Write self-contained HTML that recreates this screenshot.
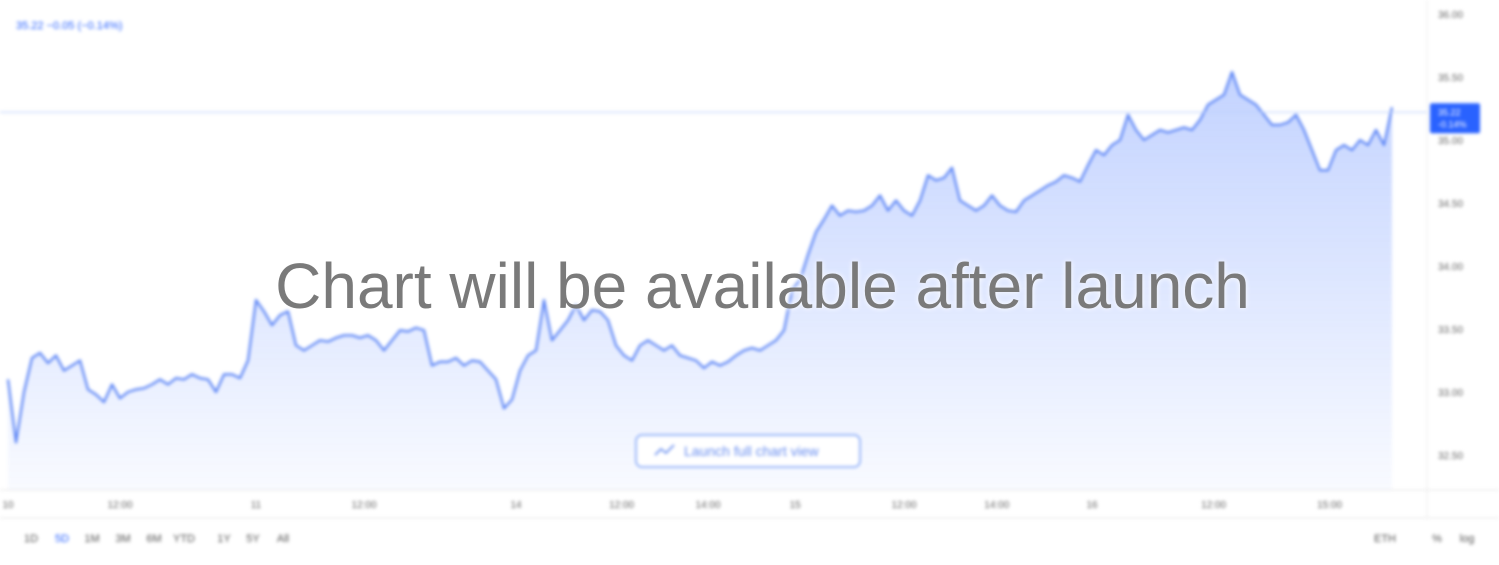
<!DOCTYPE html>
<html><head><meta charset="utf-8"><style>
body{margin:0;width:1499px;height:560px;background:#fff;overflow:hidden;font-family:"Liberation Sans",sans-serif;position:relative}
#blurwrap{position:absolute;left:0;top:0;width:1499px;height:560px;filter:blur(1.6px)}
.overlay{position:absolute;left:0;width:1525px;top:249px;text-align:center;font-size:64px;color:#7a7a7a;text-shadow:0 0 6px #fff;}
</style></head><body>
<div id="blurwrap">
<svg id="chart" width="1499" height="560">
<defs><linearGradient id="g" x1="0" y1="0" x2="0" y2="1"><stop offset="0" stop-color="#2962ff" stop-opacity="0.28"/><stop offset="1" stop-color="#2962ff" stop-opacity="0.03"/></linearGradient></defs>
<line x1="0" y1="490" x2="1499" y2="490" stroke="#e6e6e6"/>
<line x1="1427" y1="0" x2="1427" y2="518" stroke="#eee"/>
<line x1="0" y1="518" x2="1499" y2="518" stroke="#e6e6e6"/>
<text x="16" y="29" font-size="11" fill="#2962ff">35.22 −0.05 (−0.14%)</text>
<g id="yt"></g><g id="xt"></g><g id="series"></g>
<rect x="636" y="435" width="224" height="32" rx="6" fill="#fff" stroke="#7da2f7" stroke-width="1.5"/>
<text x="684" y="456" font-size="14" fill="#6a8ff0">Launch full chart view</text>
<path d="M655 455 l6 -6 l5 4 l8 -8" stroke="#6a8ff0" fill="none" stroke-width="1.6"/>
<g font-size="11" fill="#555" id="tb"></g>
</svg>
</div>
<div class="overlay">Chart will be available after launch</div>
<script>
const prices=[33.10,32.60,33.00,33.27,33.31,33.23,33.29,33.17,33.21,33.25,33.02,32.98,32.92,33.06,32.95,33.00,33.02,33.03,33.06,33.10,33.06,33.11,33.10,33.14,33.11,33.10,33.00,33.14,33.14,33.11,33.25,33.73,33.64,33.53,33.61,33.64,33.37,33.33,33.37,33.41,33.40,33.43,33.45,33.45,33.43,33.45,33.41,33.33,33.41,33.49,33.48,33.51,33.49,33.21,33.24,33.24,33.27,33.21,33.25,33.24,33.17,33.10,32.87,32.94,33.17,33.29,33.33,33.73,33.41,33.49,33.57,33.69,33.57,33.65,33.64,33.57,33.37,33.29,33.25,33.37,33.41,33.37,33.33,33.37,33.29,33.27,33.25,33.19,33.24,33.21,33.24,33.29,33.33,33.35,33.33,33.37,33.41,33.49,33.81,33.89,34.09,34.27,34.37,34.48,34.40,34.44,34.43,34.44,34.48,34.56,34.44,34.52,34.44,34.40,34.52,34.72,34.68,34.70,34.78,34.52,34.48,34.44,34.48,34.56,34.48,34.44,34.43,34.52,34.56,34.60,34.64,34.67,34.72,34.70,34.67,34.80,34.92,34.88,34.96,35.00,35.20,35.08,35.00,35.04,35.08,35.06,35.08,35.10,35.08,35.16,35.28,35.32,35.36,35.54,35.36,35.32,35.28,35.20,35.12,35.12,35.14,35.20,35.08,34.92,34.76,34.76,34.92,34.96,34.92,35.00,34.96,35.08,34.96,35.26];
const yTicks=[36.00,35.50,35.00,34.50,34.00,33.50,33.00,32.50];
const xLabels=["10","12:00","11","12:00","14","12:00","14:00","15","12:00","14:00","16","12:00","15:00"];
const xLabelIdx=[0,14,31,44.5,63.5,76.7,87.5,98.4,112,123.6,135.5,150.7,165.2];
const lastPrice=35.22;
const ranges=["1D","5D","1M","3M","6M","YTD","1Y","5Y","All"];
const NS="http://www.w3.org/2000/svg";
const y=v=>14+(36-v)*126;
const x=i=>8+i*8;
function mk(t,a,p){const e=document.createElementNS(NS,t);for(const k in a)e.setAttribute(k,a[k]);(p||document.getElementById('chart')).appendChild(e);return e;}
const yt=document.getElementById('yt');
yTicks.forEach(v=>{const t=mk('text',{x:1438,y:y(v)+4,'font-size':10,fill:'#666'},yt);t.textContent=v.toFixed(2);

});
const xt=document.getElementById('xt');
xLabels.forEach((l,k)=>{const t=mk('text',{x:x(xLabelIdx[k]),y:508,'font-size':10,fill:'#666','text-anchor':'middle'},xt);t.textContent=l;

});
const s=document.getElementById('series');
let d=prices.map((v,i)=>(i?'L':'M')+x(i)+' '+y(v)).join(' ');
const area=mk('path',{d:d+' L'+x(prices.length-1)+' 490 L'+x(0)+' 490 Z',fill:'url(#g)'},s);


const line=mk('path',{d:d,fill:'none',stroke:'#5b84f5','stroke-width':2.2,'stroke-linejoin':'round'},s);


const pl=mk('line',{x1:0,x2:1427,y1:y(lastPrice),y2:y(lastPrice),stroke:'#bcd0fb'},s);


const bx=mk('rect',{x:1430,y:y(lastPrice)-9,width:50,height:30,rx:2,fill:'#2962ff'},s);


const bt=mk('text',{x:1438,y:y(lastPrice)+3,'font-size':9,fill:'#fff'},s);bt.textContent='35.22';


const bt2=mk('text',{x:1438,y:y(lastPrice)+15,'font-size':9,fill:'#fff'},s);bt2.textContent='-0.14%';


const tb=document.getElementById('tb');
const rx=[31,62,92,123,154,184,224,253,283];
ranges.forEach((r,i)=>{const t=mk('text',{x:rx[i],y:542,'text-anchor':'middle','font-size':11,fill:r=='5D'?'#2962ff':'#555'},tb);t.textContent=r;

});
[['ETH',1385],['%',1437],['log',1467]].forEach(a=>{const t=mk('text',{x:a[1],y:542,'text-anchor':'middle','font-size':11,fill:'#555'},tb);t.textContent=a[0];

});
</script>
</body></html>
